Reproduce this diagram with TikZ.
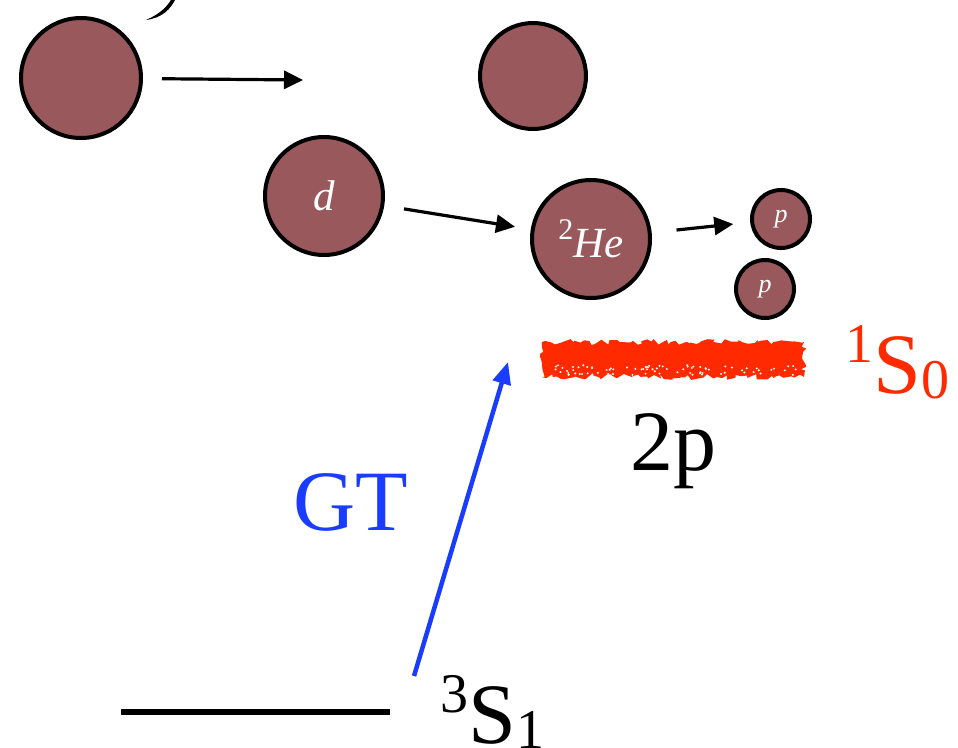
\documentclass[tikz,border=0pt]{standalone}
\usepackage{fontspec}
\setmainfont{Liberation Serif}
\usetikzlibrary{arrows.meta,decorations.pathmorphing}
\definecolor{nucfill}{RGB}{152,88,92}
\definecolor{barred}{RGB}{255,42,0}
\definecolor{gtblue}{RGB}{25,60,255}
\newcommand{\lvlterm}[3]{\raisebox{0.36em}{\fontsize{56}{56}\selectfont #1}#2\raisebox{-0.06em}{\fontsize{56}{56}\selectfont #3}}
\begin{document}
\begin{tikzpicture}[x=1pt,y=-1pt,
  nuc/.style={circle,draw=black,line width=4pt,fill=nucfill,text=white,inner sep=0pt},
  nuctext/.style={font=\itshape\fontsize{43}{43}\selectfont},
  flow/.style={line width=3.2pt,-{Triangle[length=19pt,width=18pt]}},
  big/.style={font=\fontsize{86}{86}\selectfont,inner sep=0pt,anchor=base west}]
\useasboundingbox (0,0) rectangle (958,747);
% nuclei
\node[nuc,minimum size=120pt] (nA) at (81,78) {};
\node[nuc,minimum size=106pt] (nB) at (533,76) {};
\node[nuc,nuctext,minimum size=118pt] (deut) at (324,196) {d};
\node[nuc,nuctext,minimum size=118pt] (he) at (591,239) {\raisebox{0.42em}{\upshape\fontsize{30}{30}\selectfont 2}He};
\node[nuc,minimum size=58pt,font=\itshape\fontsize{26}{26}\selectfont] (pa) at (781,219) {p};
\node[nuc,minimum size=58pt,font=\itshape\fontsize{26}{26}\selectfont] (pb) at (765,289) {p};
\fill (146,20) .. controls (160,14) and (168,6) .. (172,-2) -- (176,-2) .. controls (171,9) and (162,18) .. (146,20);
% arrows
\coordinate (nAend) at (303,80);
\draw[flow,shorten <=19pt] (nA) -- (nAend);
\draw[flow,shorten <=20pt,shorten >=16pt] (deut) -- (he);
\draw[flow,shorten <=25pt,shorten >=17pt] (he) -- (pa);
% 2p level
\fill[barred,decorate,decoration={random steps,segment length=4pt,amplitude=3pt}] (542,342) rectangle (804,377);
\pgfmathsetseed{42}
\foreach \i in {1,...,80}{
  \pgfmathsetmacro{\sx}{552+245*rnd}
  \pgfmathsetmacro{\sy}{365+10*rnd}
  \fill[white] (\sx,\sy) circle (1.1pt);
}
\node[big,text=barred] (singlet) at (845,393) {\lvlterm{1}{S}{0}};
\node[big] (twop) at (630,470) {2p};
% ground level
\coordinate (lowL) at (121,712);
\coordinate (lowR) at (390,712);
\draw[line width=6pt] (lowL) -- (lowR);
\node[big] (triplet) at (440,743) {\lvlterm{3}{S}{1}};
% GT transition
\coordinate (gtfoot) at (414,676);
\coordinate (gttip) at (508,362);
\draw[gtblue,line width=4.5pt,-{Triangle[length=22pt,width=18pt]}] (gtfoot) -- (gttip);
\node[big,text=gtblue] (gt) at (293,530) {GT};
\end{tikzpicture}
\end{document}
